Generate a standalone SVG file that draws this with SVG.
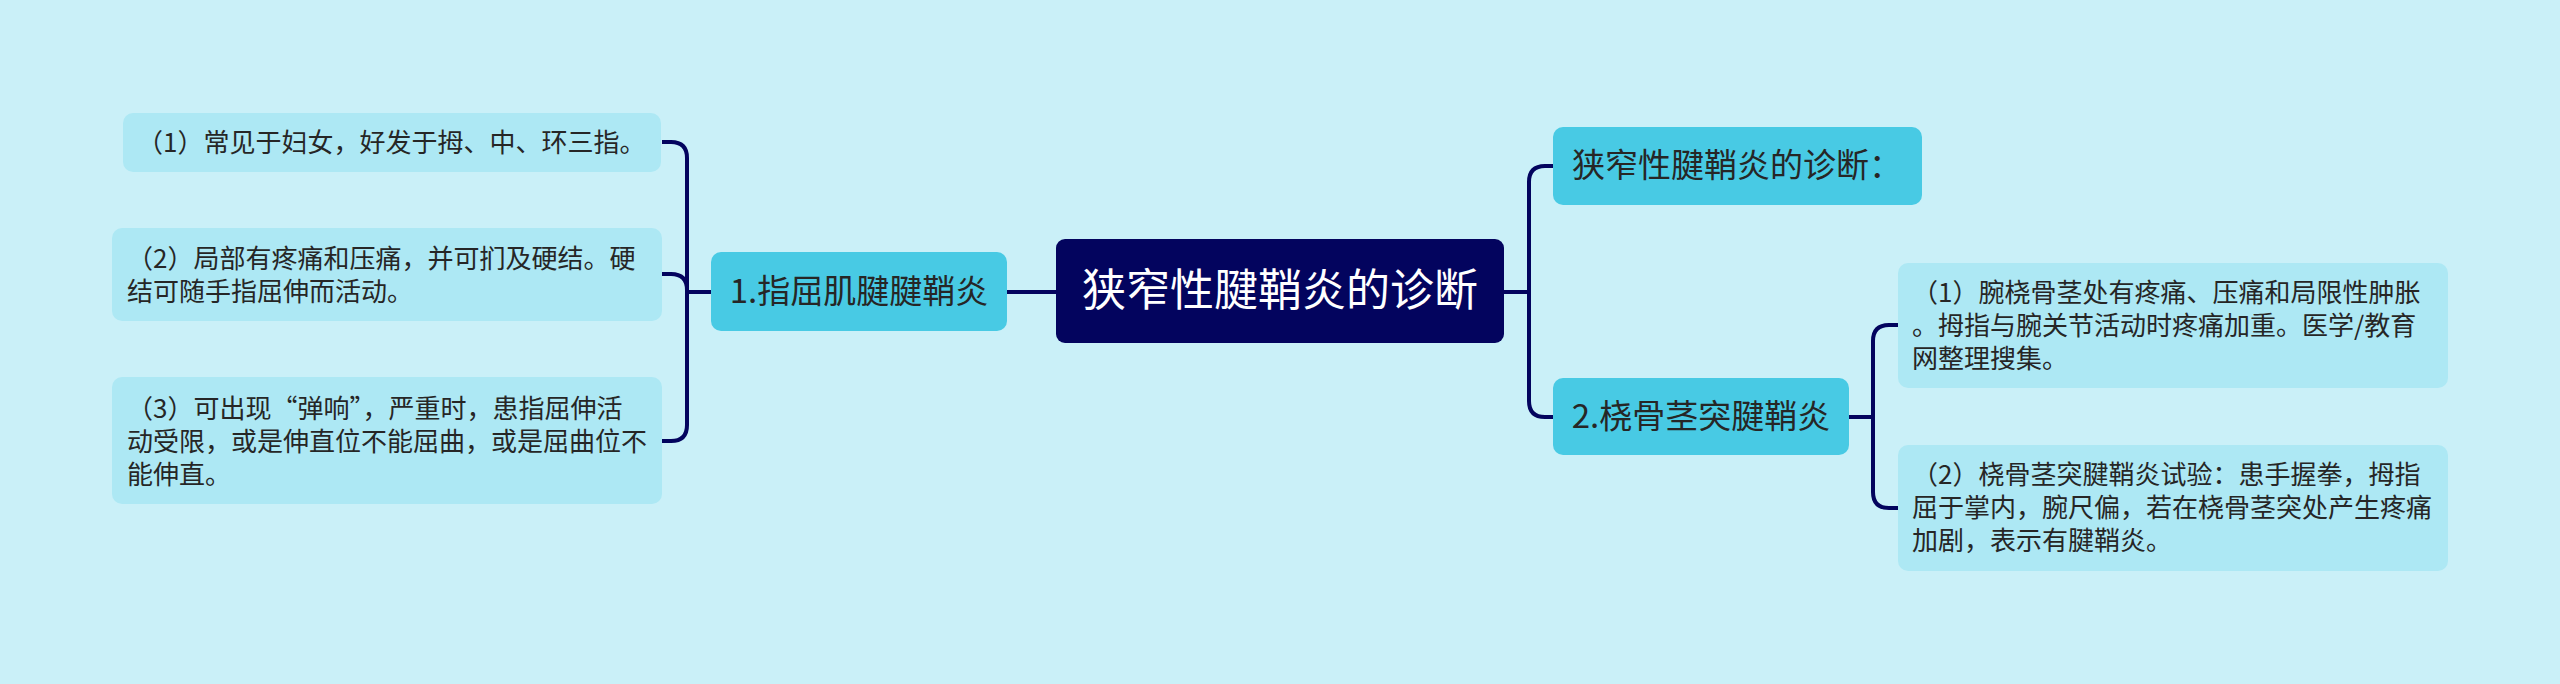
<svg xmlns="http://www.w3.org/2000/svg" width="2560" height="684" viewBox="0 0 2560 684">
  <style>
    .leaf rect { fill: #ade8f4; }
    .branch rect { fill: #48cae4; }
    .root rect { fill: #03045e; }
    text { font-family: "Noto Sans CJK SC", "Noto Sans", sans-serif; fill: #262626; }
    .leaf text { font-size: 26px; }
    .branch text { font-size: 33px; text-anchor: middle; }
    .root text { font-size: 44px; text-anchor: middle; fill: #ffffff; }
    .conn path { fill: none; stroke: #03045e; stroke-width: 4; }
  </style>
  <rect x="0" y="0" width="2560" height="684" fill="#caf0f8"/>

  <g class="conn" id="connectors">
    <path d="M 711 292 H 687 V 158 Q 687 142 671 142 H 662"/>
    <path d="M 711 292 H 687 V 290 Q 687 274 671 274 H 662"/>
    <path d="M 711 292 H 687 V 425 Q 687 441 671 441 H 662"/>
    <path d="M 1056 292 H 1007"/>
    <path d="M 1504 292 H 1529 V 182 Q 1529 166 1545 166 H 1553"/>
    <path d="M 1504 292 H 1529 V 401 Q 1529 417 1545 417 H 1553"/>
    <path d="M 1849 417 H 1873 V 341 Q 1873 325 1889 325 H 1898"/>
    <path d="M 1849 417 H 1873 V 492 Q 1873 508 1889 508 H 1898"/>
  </g>

  <g class="root" id="root">
    <rect x="1056" y="239" width="448" height="104" rx="9"/>
    <text x="1280" y="306">狭窄性腱鞘炎的诊断</text>
  </g>

  <g class="branch" id="b1">
    <rect x="711" y="252" width="296" height="79" rx="10"/>
    <text x="859" y="303">1.指屈肌腱腱鞘炎</text>
  </g>

  <g class="branch" id="b2">
    <rect x="1553" y="127" width="369" height="78" rx="10"/>
    <text x="1737" y="177">狭窄性腱鞘炎的诊断：</text>
  </g>

  <g class="branch" id="b3">
    <rect x="1553" y="378" width="296" height="77" rx="10"/>
    <text x="1701" y="428">2.桡骨茎突腱鞘炎</text>
  </g>

  <g class="leaf" id="l1">
    <rect x="123" y="113" width="538" height="59" rx="10"/>
    <text x="137" y="152">（1）常见于妇女，好发于拇、中、环三指。</text>
  </g>

  <g class="leaf" id="l2">
    <rect x="112" y="228" width="550" height="93" rx="10"/>
    <text x="127" y="268">（2）局部有疼痛和压痛，并可扪及硬结。硬</text>
    <text x="127" y="301">结可随手指屈伸而活动。</text>
  </g>

  <g class="leaf" id="l3">
    <rect x="112" y="377" width="550" height="127" rx="10"/>
    <text x="127" y="418">（3）可出现“弹响”，严重时，患指屈伸活</text>
    <text x="127" y="451">动受限，或是伸直位不能屈曲，或是屈曲位不</text>
    <text x="127" y="484">能伸直。</text>
  </g>

  <g class="leaf" id="r1">
    <rect x="1898" y="263" width="550" height="125" rx="10"/>
    <text x="1912" y="302">（1）腕桡骨茎处有疼痛、压痛和局限性肿胀</text>
    <text x="1912" y="335">。拇指与腕关节活动时疼痛加重。医学/教育</text>
    <text x="1912" y="368">网整理搜集。</text>
  </g>

  <g class="leaf" id="r2">
    <rect x="1898" y="445" width="550" height="126" rx="10"/>
    <text x="1912" y="484">（2）桡骨茎突腱鞘炎试验：患手握拳，拇指</text>
    <text x="1912" y="517">屈于掌内，腕尺偏，若在桡骨茎突处产生疼痛</text>
    <text x="1912" y="550">加剧，表示有腱鞘炎。</text>
  </g>
</svg>
